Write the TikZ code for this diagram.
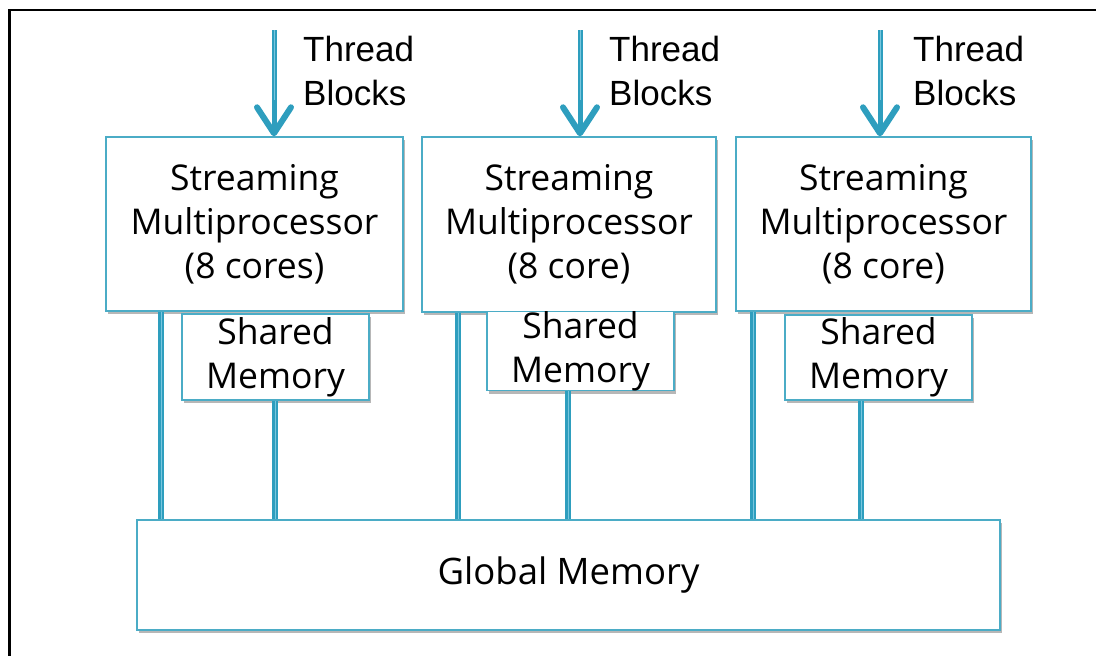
\documentclass[tikz,border=0pt]{standalone}
\usepackage{fontspec}
\setmainfont{Open Sans}
\newfontfamily\arialf{Liberation Sans}
\usetikzlibrary{arrows.meta,shadows}
\definecolor{bcol}{RGB}{75,172,198}
\definecolor{lcol}{RGB}{46,158,190}
\definecolor{lightc}{RGB}{120,198,222}
\tikzset{
  box/.style={draw=bcol, line width=1.4pt, fill=white, inner sep=0pt, align=center,
    font=\fontsize{35.5}{44}\selectfont,
    drop shadow={shadow xshift=2pt, shadow yshift=-3pt, opacity=0.4, fill=black!70}},
  conn/.style={draw=lcol, line width=2.3pt, double=lightc, double distance=0.9pt},
  arr/.style={draw=lcol, line width=5pt, -{Straight Barb[length=26pt,width=34pt,round,line width=6pt]}},
  lbl/.style={inner sep=0pt, align=left, anchor=north west, font=\arialf\fontsize{35}{44}\selectfont}
}
\begin{document}
\begin{tikzpicture}[x=1pt,y=-1pt]
\useasboundingbox (0,0) rectangle (1096,656);
\draw[line width=2.5pt] (9.5,700) -- (9.5,10) -- (1120,10);

% streaming multiprocessors
\node[box, minimum width=297pt, minimum height=174pt] (sm1) at (254.5,224) {Streaming\\Multiprocessor\\(8 cores)};
\node[box, minimum width=294pt, minimum height=175pt] (sm2) at (569,224.5) {Streaming\\Multiprocessor\\(8 core)};
\node[box, minimum width=295pt, minimum height=174pt] (sm3) at (883.5,224) {Streaming\\Multiprocessor\\(8 core)};

% shared memories
\node[box, minimum width=187pt, minimum height=86pt] (sh1) at (275.5,357) {Shared\\Memory};
\node[box, minimum width=187pt, minimum height=78pt] (sh2) at (580.5,351) {Shared\\Memory};
\node[box, minimum width=187pt, minimum height=85pt] (sh3) at (878.5,357.5) {Shared\\Memory};

% global memory
\node[box, minimum width=863pt, minimum height=110pt, font=\fontsize{36.5}{44}\selectfont] (glob) at (568.5,575) {Global Memory};

% thread block labels
\node[lbl] (t1) at (303,36) {Thread\\Blocks};
\node[lbl] (t2) at (609,36) {Thread\\Blocks};
\node[lbl] (t3) at (913,36) {Thread\\Blocks};

% arrows
\coordinate (a1) at (274,30);
\coordinate (a2) at (580,30);
\coordinate (a3) at (880,30);
\foreach \a/\s in {a1/sm1,a2/sm2,a3/sm3}{
  \draw[arr] (\a) -- (\a |- \s.north);
  \draw[lightc, line width=1pt] (\a) -- ++(0,70);
}

% vertical connectors
\coordinate (x1) at (161,0);
\coordinate (x2) at (275,0);
\coordinate (x3) at (458,0);
\coordinate (x4) at (568,0);
\coordinate (x5) at (753,0);
\coordinate (x6) at (861,0);
\draw[conn] (x1 |- sm1.south) -- (x1 |- glob.north);
\draw[conn] (x2 |- sh1.south) -- (x2 |- glob.north);
\draw[conn] (x3 |- sm2.south) -- (x3 |- glob.north);
\draw[conn] (x4 |- sh2.south) -- (x4 |- glob.north);
\draw[conn] (x5 |- sm3.south) -- (x5 |- glob.north);
\draw[conn] (x6 |- sh3.south) -- (x6 |- glob.north);
\end{tikzpicture}
\end{document}
